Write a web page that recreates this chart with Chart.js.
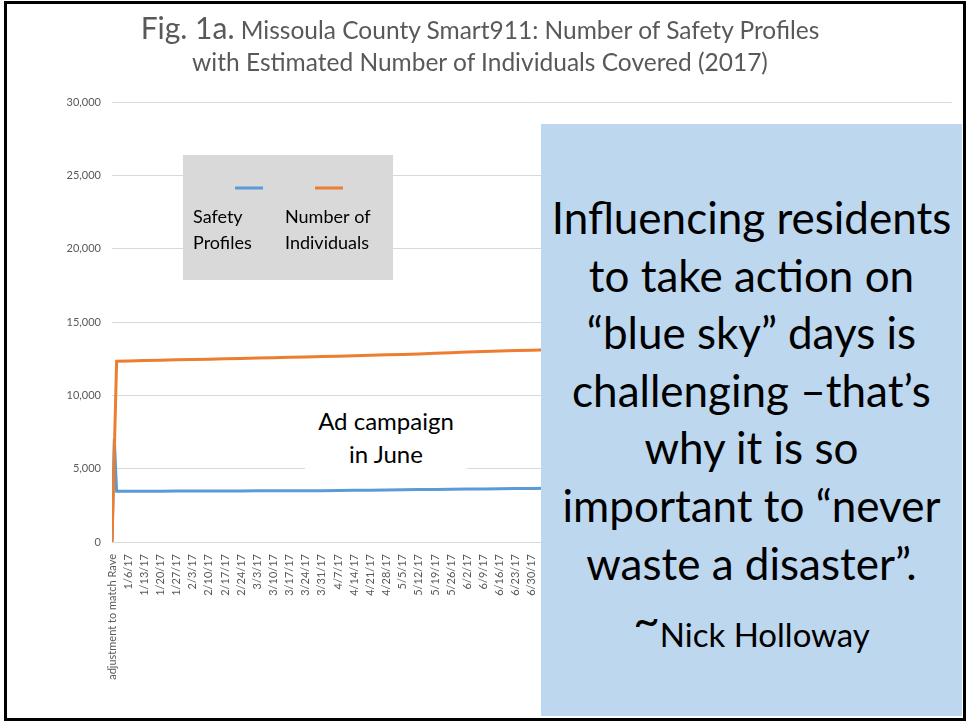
<!DOCTYPE html>
<html lang="en">
<head>
<meta charset="utf-8">
<title>Missoula County Smart911</title>
<script src="https://cdn.jsdelivr.net/npm/chart.js@4.4.0/dist/chart.umd.min.js"></script>
<style>
  body { margin: 0; background: #fff; }
  #wrap { position: relative; width: 969px; height: 723px; overflow: hidden; font-family: Lato, sans-serif; }
  #myChart { position: absolute; left: 0; top: 0; }
  .frame { position: absolute; left: 4px; top: 1px; width: 962px; height: 720px; border: 3px solid #000; box-sizing: border-box; }
  .title { position: absolute; left: 0; width: 960px; text-align: center; color: #595959; font-size: 24.5px; line-height: 34px; }
  .title .big { font-size: 30px; }
  .note { position: absolute; left: 305px; top: 404px; width: 162px; height: 68px; background: #fff;
          text-align: center; font-size: 24px; line-height: 33px; color: #000; }
  .quote { position: absolute; left: 541px; top: 124px; width: 421px; height: 592px; background: #bdd7ee;
           text-align: center; color: #000; font-size: 44px; line-height: 57.6px; padding-top: 65px; box-sizing: border-box; }
  .quote .who { display: block; font-size: 33px; line-height: 48px; margin-top: 4px; }
  .quote .tilde { font-size: 46px; vertical-align: 10px; }
</style>
</head>
<body>
<div id="wrap">
  <canvas id="myChart" width="969" height="723"></canvas>
  <div class="title" style="top:10px"><span class="big">Fig. 1a.</span> Missoula County Smart911: Number of Safety Profiles</div>
  <div class="title" style="top:45px">with Estimated Number of Individuals Covered (2017)</div>
  <div class="note">Ad campaign<br>in June</div>
  <div class="quote">Influencing residents<br>to take action on<br>“blue sky” days is<br>challenging –that’s<br>why it is so<br>important to “never<br>waste a disaster”.<span class="who"><span class="tilde">~</span>Nick Holloway</span></div>
  <div class="frame"></div>
</div>

<script>
// x axis: one tick per week, the first one is the Rave adjustment
const tickLabels = ["adjustment to match Rave",
  "1/6/17","1/13/17","1/20/17","1/27/17","2/3/17","2/10/17","2/17/17","2/24/17",
  "3/3/17","3/10/17","3/17/17","3/24/17","3/31/17","4/7/17","4/14/17","4/21/17","4/28/17",
  "5/5/17","5/12/17","5/19/17","5/26/17","6/2/17","6/9/17","6/16/17","6/23/17","6/30/17",
  "7/7/17","7/14/17","7/21/17","7/28/17","8/4/17","8/11/17","8/18/17","8/25/17",
  "9/1/17","9/8/17","9/15/17","9/22/17","9/29/17","10/6/17","10/13/17","10/20/17","10/27/17",
  "11/3/17","11/10/17","11/17/17","11/24/17","12/1/17","12/8/17","12/15/17","12/22/17","12/29/17"];

// days counted from the adjustment point
const pointDays = [0, 1, 2,
  7, 14, 21, 28, 35, 42, 49, 56, 63, 70, 77, 84, 91,
  98, 105, 112, 119, 126, 133, 140, 147, 154, 161, 168, 175, 182, 189];

const safetyProfiles = [0, 7000, 3455,
  3458, 3462, 3465, 3469, 3472, 3476, 3479, 3483, 3486, 3490, 3493, 3497, 3500,
  3512, 3524, 3536, 3548, 3560, 3572, 3584, 3596, 3608, 3620, 3632, 3644, 3656, 3668];

const individuals = [0, null, 12320,
  12345, 12370, 12395, 12420, 12440, 12465, 12490, 12515, 12540, 12565, 12590, 12610, 12640,
  12670, 12700, 12730, 12760, 12790, 12820, 12865, 12905, 12950, 12995, 13030, 13055, 13080, 13100];

const toPoints = (vals) => pointDays.map((d, i) => ({ x: d, y: vals[i] }));

// grey legend box like the Excel one, labels wrapped under the line samples
const boxLegend = {
  id: 'boxLegend',
  afterDatasetsDraw(chart, args, opts) {
    const ctx = chart.ctx;
    ctx.save();
    ctx.fillStyle = '#d9d9d9';
    ctx.fillRect(opts.x, opts.y, opts.w, opts.h);
    ctx.font = '18px Lato';
    ctx.textBaseline = 'middle';
    chart.data.datasets.forEach((ds, i) => {
      const colX = opts.x + opts.cols[i];
      ctx.strokeStyle = ds.borderColor;
      ctx.lineWidth = 3;
      ctx.beginPath();
      ctx.moveTo(colX + opts.sample[i], opts.y + 33);
      ctx.lineTo(colX + opts.sample[i] + 28, opts.y + 33);
      ctx.stroke();
      // word wrap
      const lines = [];
      let cur = '';
      ds.label.split(' ').forEach(w => {
        const t = cur ? cur + ' ' + w : w;
        if (cur && ctx.measureText(t).width > 100) { lines.push(cur); cur = w; } else { cur = t; }
      });
      lines.push(cur);
      ctx.fillStyle = '#000';
      lines.forEach((l, j) => ctx.fillText(l, colX, opts.y + 62 + j * 26));
    });
    ctx.restore();
  }
};

const ctx = document.getElementById('myChart').getContext('2d');
new Chart(ctx, {
  type: 'line',
  data: {
    datasets: [{
      label: 'Safety Profiles',
      data: toPoints(safetyProfiles),
      borderColor: '#5b9bd5',
      borderWidth: 3,
      pointRadius: 0,
      tension: 0,
      order: 1
    }, {
      label: 'Number of Individuals',
      data: toPoints(individuals),
      borderColor: '#ed7d31',
      borderWidth: 3,
      pointRadius: 0,
      tension: 0,
      spanGaps: true,
      order: 0
    }]
  },
  options: {
    responsive: false,
    animation: false,
    layout: { padding: { top: 102, right: 15, left: 0, bottom: 0 } },
    plugins: {
      legend: { display: false },
      tooltip: { enabled: false },
      boxLegend: { x: 183, y: 155, w: 210, h: 125, cols: [10, 102], sample: [42, 30] }
    },
    scales: {
      x: {
        type: 'linear',
        min: 0,
        max: 364,
        grid: { display: false },
        border: { display: true, color: '#d9d9d9', width: 1 },
        ticks: {
          stepSize: 7,
          autoSkip: false,
          minRotation: 90,
          maxRotation: 90,
          padding: 4,
          color: '#595959',
          font: { family: 'Lato', size: 11 },
          callback: (v) => tickLabels[Math.round(v / 7)] || ''
        },
        afterFit: (s) => { s.height = 181; }
      },
      y: {
        min: 0,
        max: 30000,
        grid: { color: '#d9d9d9', drawTicks: false },
        border: { display: false },
        ticks: {
          stepSize: 5000,
          padding: 11,
          color: '#595959',
          font: { family: 'Lato', size: 11 }
        },
        afterFit: (s) => { s.width = 112; }
      }
    }
  },
  plugins: [boxLegend]
});
</script>
</body>
</html>
